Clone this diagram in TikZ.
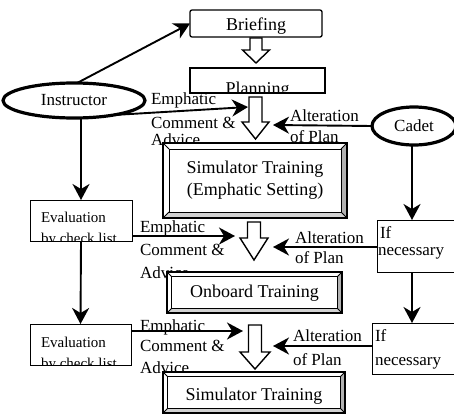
\documentclass[tikz,border=0pt]{standalone}
\usepackage{fontspec}
\setmainfont{Liberation Serif}
\usetikzlibrary{arrows.meta,calc,shapes.geometric}
\tikzset{
 lbl/.style={inner sep=0pt, outer sep=0pt, anchor=base west, font=\fontsize{17}{20}\selectfont},
 evl/.style={lbl, font=\fontsize{15}{18}\selectfont},
 arr/.style={line width=1.9pt, -{Stealth[length=16pt,width=17pt,inset=5pt]}},
 hollow/.style={line width=1.4pt, fill=white, line join=miter},
 plainbox/.style={draw, line width=1.3pt, fill=white, inner sep=0pt, outer sep=0pt, font=\fontsize{18}{22}\selectfont},
 framebox/.style={draw, line width=2.6pt, fill=white, inner sep=0pt, outer sep=0pt, font=\fontsize{18}{22}\selectfont, align=center},
 oval/.style={ellipse, draw, line width=3.2pt, fill=white, inner sep=0pt, outer sep=0pt, font=\fontsize{17}{20}\selectfont},
 thinbox/.style={draw, line width=1pt, fill=white, inner sep=0pt, outer sep=0pt},
}
\newcommand{\hollowarrow}[6]{%
 \draw[hollow] (#1-#5,#2) -- (#1+#5,#2) -- (#1+#5,#3) -- (#1+#6,#3) -- (#1,#4) -- (#1-#6,#3) -- (#1-#5,#3) -- cycle;}
\newcommand{\bevelframe}[2]{%
 \fill[gray!60] (#1.north east) -- (#1.south east) -- ($(#1.south east)+(-#2,-#2)$) -- ($(#1.north east)+(-#2,#2)$) -- cycle;
 \fill[gray!35] (#1.south west) -- (#1.south east) -- ($(#1.south east)+(-#2,-#2)$) -- ($(#1.south west)+(#2,-#2)$) -- cycle;
 \draw[line width=1pt] ($(#1.north west)+(#2,#2)$) rectangle ($(#1.south east)+(-#2,-#2)$);
 \draw[line width=0.8pt] (#1.north west) -- ++(#2,#2) (#1.north east) -- ++(-#2,#2) (#1.south west) -- ++(#2,-#2) (#1.south east) -- ++(-#2,-#2);
 \draw[line width=2.6pt] (#1.north west) rectangle (#1.south east);}
\begin{document}
\begin{tikzpicture}[x=1pt,y=-1pt]
\useasboundingbox (0,0) rectangle (454,415);
% labels partly hidden behind boxes
\node[lbl] (adv1) at (151,145) {Advice};
\node[lbl] (adv2) at (140,278) {Advice};
\node[lbl] (adv3) at (140,373) {Advice};
% boxes
\node[plainbox, rounded corners=2pt, minimum width=132pt, minimum height=27pt, text height=13pt, text depth=0pt] (brief) at (256,23.5) {Briefing};
\node[plainbox, minimum width=135pt, minimum height=25pt] (plan) at (257.5,80.5) {};
\begin{scope}
 \clip (plan.north west) rectangle (plan.south east);
 \node[inner sep=0pt, anchor=base, font=\fontsize{18}{22}\selectfont] (tplan) at (257.5,94) {Planning};
\end{scope}
\node[oval, minimum width=142pt, minimum height=35pt] (instr) at (74,100.5) {Instructor};
\node[oval, minimum width=84pt, minimum height=38pt] (cadet) at (414,126) {Cadet};
\node[framebox, minimum width=184pt, minimum height=75pt] (sim1) at (255,180.5) {Simulator Training\\(Emphatic Setting)};
\bevelframe{sim1}{6}
\node[framebox, minimum width=175pt, minimum height=41pt, text height=12pt, text depth=3pt] (onb) at (254.5,292.5) {Onboard Training};
\bevelframe{onb}{4.5}
\node[framebox, minimum width=182pt, minimum height=41pt, text height=15pt, text depth=0pt] (sim2) at (254,392.5) {Simulator Training};
\bevelframe{sim2}{4.5}
\node[thinbox, minimum width=102pt, minimum height=41pt] (eval1) at (81,220.5) {};
\node[thinbox, minimum width=101pt, minimum height=41pt] (eval2) at (80.5,344.5) {};
\node[thinbox, minimum width=80pt, minimum height=52pt] (ifn1) at (417,246) {};
\node[thinbox, minimum width=84pt, minimum height=51pt] (ifn2) at (414,348.5) {};
\begin{scope}
 \clip (eval1.north west) rectangle (eval1.south east);
 \node[evl] (ev1a) at (41,222) {Evaluation};
 \node[evl] (ev1b) at (41,243) {by check list};
\end{scope}
\begin{scope}
 \clip (eval2.north west) rectangle (eval2.south east);
 \node[evl] (ev2a) at (41,347) {Evaluation};
 \node[evl] (ev2b) at (41,368) {by check list};
\end{scope}
\node[lbl] (if1a) at (380,238) {If};
\node[lbl] (if1b) at (378,255) {necessary};
\node[lbl] (if2a) at (375,341) {If};
\node[lbl] (if2b) at (375,365) {necessary};
% other labels
\node[lbl] (emp1) at (151,104) {Emphatic};
\node[lbl] (com1) at (151,128) {Comment \&};
\node[lbl] (alt1) at (290,121) {Alteration};
\node[lbl] (ofp1) at (290,142) {of Plan};
\node[lbl] (emp2) at (140,232) {Emphatic};
\node[lbl] (com2) at (140,255) {Comment \&};
\node[lbl] (alt2) at (295,243) {Alteration};
\node[lbl] (ofp2) at (295,263) {of Plan};
\node[lbl] (emp3) at (140,331) {Emphatic};
\node[lbl] (com3) at (140,351) {Comment \&};
\node[lbl] (alt3) at (293,341) {Alteration};
\node[lbl] (ofp3) at (293,365) {of Plan};
% hollow flow arrows
\hollowarrow{256}{38}{50}{63}{6}{13.5}
\hollowarrow{255.5}{97}{122}{139}{6.5}{13.5}
\hollowarrow{254}{222}{238}{260}{6.5}{14}
\hollowarrow{255}{325}{352}{369}{6.5}{15}
% arrow end points
\coordinate (e1) at (248,107);
\coordinate (a1) at (273,125);
\coordinate (e2) at (235,236);
\coordinate (a2) at (273,247);
\coordinate (e3) at (243,331);
\coordinate (a3) at (273,346);
% connectors
\draw[arr] (instr.80) -- (brief.west);
\draw[arr] (instr.-20) -- (e1);
\draw[arr] (cadet.west) -- (a1);
\draw[arr] (instr.south -| eval1.north) -- (eval1.north);
\draw[arr] (eval1.south) -- (eval2.north);
\draw[arr] ([xshift=-2pt]cadet.south) -- ([xshift=-2pt]cadet.south |- ifn1.north);
\draw[arr] ([xshift=-2pt]cadet.south |- ifn1.south) -- ([xshift=-2pt]cadet.south |- ifn2.north);
\draw[arr] (eval1.east |- e2) -- (e2);
\draw[arr] (ifn1.west |- a2) -- (a2);
\draw[arr] (eval2.east |- e3) -- (e3);
\draw[arr] (ifn2.west |- a3) -- (a3);
\end{tikzpicture}
\end{document}
